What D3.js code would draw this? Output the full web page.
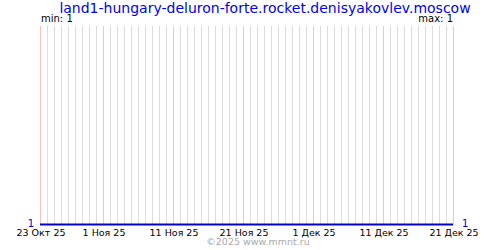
<!DOCTYPE html>
<html>
<head>
<meta charset="utf-8">
<script src="https://cdn.jsdelivr.net/npm/d3@7"></script>
<style>
  body { margin: 0; background: #fff; }
  svg { display: block; font-family: "DejaVu Sans", Verdana, sans-serif; }
</style>
</head>
<body>
<div id="chart"></div>
<script>
const title = "land1-hungary-deluron-forte.rocket.denisyakovlev.moscow";
const startDate = "2025-10-23";
const endDate = "2025-12-21";
const tickDates = ["2025-10-23", "2025-11-01", "2025-11-11", "2025-11-21", "2025-12-01", "2025-12-11", "2025-12-21"];
const tickLabels = ["23 Окт 25", "1 Ноя 25", "11 Ноя 25", "21 Ноя 25", "1 Дек 25", "11 Дек 25", "21 Дек 25"];
// one value per day, 23 Oct .. 21 Dec
const values = [
  1, 1, 1, 1, 1, 1, 1, 1, 1, 1,
  1, 1, 1, 1, 1, 1, 1, 1, 1, 1,
  1, 1, 1, 1, 1, 1, 1, 1, 1, 1,
  1, 1, 1, 1, 1, 1, 1, 1, 1, 1,
  1, 1, 1, 1, 1, 1, 1, 1, 1, 1,
  1, 1, 1, 1, 1, 1, 1, 1, 1, 1
];
const footer = "©2025 www.mmnt.ru";

const W = 500, H = 250;
const plotL = 40, plotR = 453, plotT = 26, plotB = 225;

const parse = d3.utcParse("%Y-%m-%d");
const t0 = parse(startDate), t1 = parse(endDate);
const days = d3.utcDay.range(t0, d3.utcDay.offset(t1, 1));
const data = days.map((d, i) => ({ date: d, value: values[i] }));

const x = d3.scaleUtc().domain([t0, t1]).range([plotL, plotR]);
const vmin = d3.min(values), vmax = d3.max(values);
const y = d3.scaleLinear().domain([vmin, vmax + 1]).range([plotB, plotT]);

const svg = d3.select("#chart").append("svg")
  .attr("width", W).attr("height", H);

// daily grid
const redSet = new Set(tickDates);
const fmt = d3.utcFormat("%Y-%m-%d");
svg.append("g").selectAll("line")
  .data(days)
  .enter().append("line")
  .attr("x1", d => Math.round(x(d)) + 0.5)
  .attr("x2", d => Math.round(x(d)) + 0.5)
  .attr("y1", plotT)
  .attr("y2", plotB)
  .attr("stroke", d => redSet.has(fmt(d)) ? "#ffbfbf" : "#dcdcdc")
  .attr("stroke-width", 1);

// series line
svg.append("path")
  .datum(data)
  .attr("fill", "none")
  .attr("stroke", "#0000cc")
  .attr("stroke-width", 2)
  .attr("d", d3.line().x(d => x(d.date)).y(d => y(d.value) - 0.5));

// x axis labels
const xAxis = d3.axisBottom(x)
  .tickValues(tickDates.map(parse))
  .tickFormat((d, i) => tickLabels[i])
  .tickSize(0)
  .tickPadding(3);
const gx = svg.append("g")
  .attr("transform", `translate(0.5,${plotB + 1})`)
  .call(xAxis);
gx.select(".domain").remove();
gx.selectAll("text")
  .attr("fill", "#000")
  .style("font-family", "'DejaVu Sans', Verdana, sans-serif")
  .style("font-size", "9.5px");

// y value labels
svg.append("text")
  .attr("x", plotL - 6).attr("y", y(vmin) + 2)
  .attr("text-anchor", "end")
  .attr("fill", "#0000cc").style("font-size", "10px")
  .text(vmin);
svg.append("text")
  .attr("x", plotR + 9).attr("y", y(vmin) + 2)
  .attr("text-anchor", "start")
  .attr("fill", "#0000cc").style("font-size", "10px")
  .text(vmin);

// min / max
svg.append("text")
  .attr("x", plotL + 1).attr("y", 22)
  .attr("fill", "#000").style("font-size", "10px")
  .text("min: " + vmin);
svg.append("text")
  .attr("x", plotR).attr("y", 22)
  .attr("text-anchor", "end")
  .attr("fill", "#000").style("font-size", "10px")
  .text("max: " + vmax);

// title
svg.append("text")
  .attr("x", 265).attr("y", 12.5)
  .attr("text-anchor", "middle")
  .attr("fill", "#0000ee").style("font-size", "14px")
  .text(title);

// footer
svg.append("text")
  .attr("x", 258).attr("y", 245)
  .attr("text-anchor", "middle")
  .attr("fill", "#aaaaaa").style("font-size", "9.5px")
  .text(footer);
</script>
</body>
</html>
